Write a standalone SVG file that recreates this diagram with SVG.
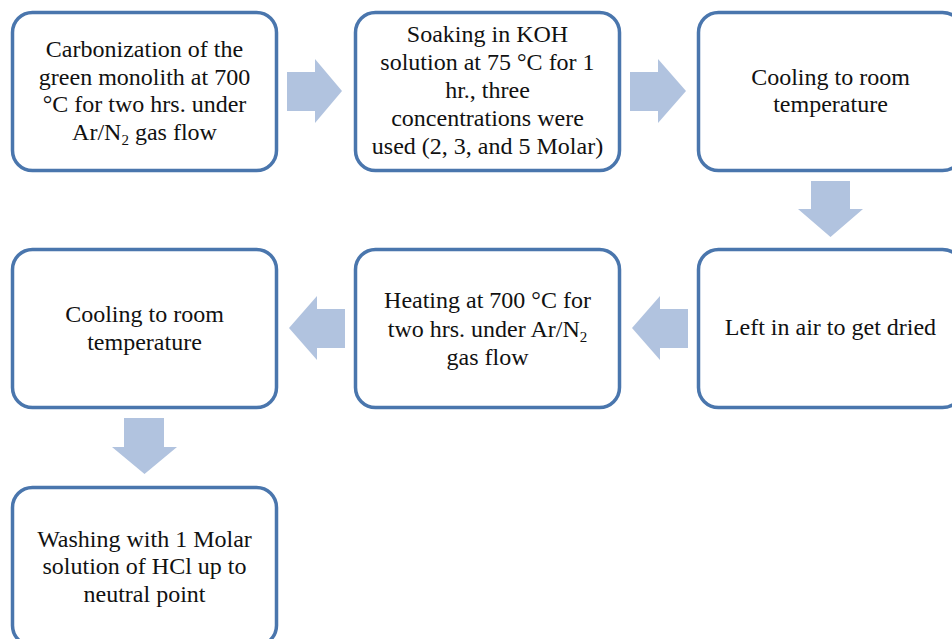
<svg xmlns="http://www.w3.org/2000/svg" width="952" height="639" viewBox="0 0 952 639">
<style>
.box{fill:#fff;stroke:#4a76ad;stroke-width:3.5}
.arr{fill:#b1c3df;stroke:none}
text{font-family:"Liberation Serif","Times New Roman",serif;font-size:24px;fill:#111;text-anchor:middle}
.sub{font-size:15px}
</style>
<rect width="952" height="639" fill="#fff"/>
<g id="connectors">
<polygon class="arr" points="287,72 315,72 315,59 342,91 315,123 315,111 287,111"/>
<polygon class="arr" points="630,72 658,72 658,59 686,91 658,123 658,111 630,111"/>
<polygon class="arr" points="811,181 850,181 850,209 863,209 830.5,237 798,209 811,209"/>
<polygon class="arr" points="688,309 660,309 660,296 632,328 660,360 660,348 688,348"/>
<polygon class="arr" points="345,309 317,309 317,296 289,328 317,360 317,348 345,348"/>
<polygon class="arr" points="124,418 164,418 164,447 177,447 144.5,474 112,447 124,447"/>
</g>
<g id="n1">
<rect class="box" x="12.5" y="12.5" width="264" height="158" rx="20"/>
<text x="144.5" y="57">Carbonization of the</text>
<text x="144.5" y="85">green monolith at 700</text>
<text x="144.5" y="112">°C for two hrs. under</text>
<text x="144.5" y="140">Ar/N<tspan class="sub" dy="5">2</tspan><tspan dy="-5"> gas flow</tspan></text>
</g>
<g id="n2">
<rect class="box" x="355.5" y="12.5" width="264" height="158" rx="20"/>
<text x="487.5" y="42">Soaking in KOH</text>
<text x="487.5" y="70">solution at 75 °C for 1</text>
<text x="487.5" y="98">hr., three</text>
<text x="487.5" y="126">concentrations were</text>
<text x="487.5" y="154">used (2, 3, and 5 Molar)</text>
</g>
<g id="n3">
<rect class="box" x="698.5" y="12.5" width="264" height="158" rx="20"/>
<text x="830.5" y="85">Cooling to room</text>
<text x="830.5" y="112">temperature</text>
</g>
<g id="n4">
<rect class="box" x="698.5" y="249.5" width="264" height="158" rx="20"/>
<text x="830.5" y="335">Left in air to get dried</text>
</g>
<g id="n5">
<rect class="box" x="355.5" y="249.5" width="264" height="158" rx="20"/>
<text x="487.5" y="308">Heating at 700 °C for</text>
<text x="487.5" y="337">two hrs. under Ar/N<tspan class="sub" dy="5">2</tspan></text>
<text x="487.5" y="365">gas flow</text>
</g>
<g id="n6">
<rect class="box" x="12.5" y="249.5" width="264" height="158" rx="20"/>
<text x="144.5" y="322">Cooling to room</text>
<text x="144.5" y="350">temperature</text>
</g>
<g id="n7">
<rect class="box" x="12.5" y="487.5" width="264" height="158" rx="20"/>
<text x="144.5" y="547">Washing with 1 Molar</text>
<text x="144.5" y="574">solution of HCl up to</text>
<text x="144.5" y="602">neutral point</text>
</g>
</svg>
